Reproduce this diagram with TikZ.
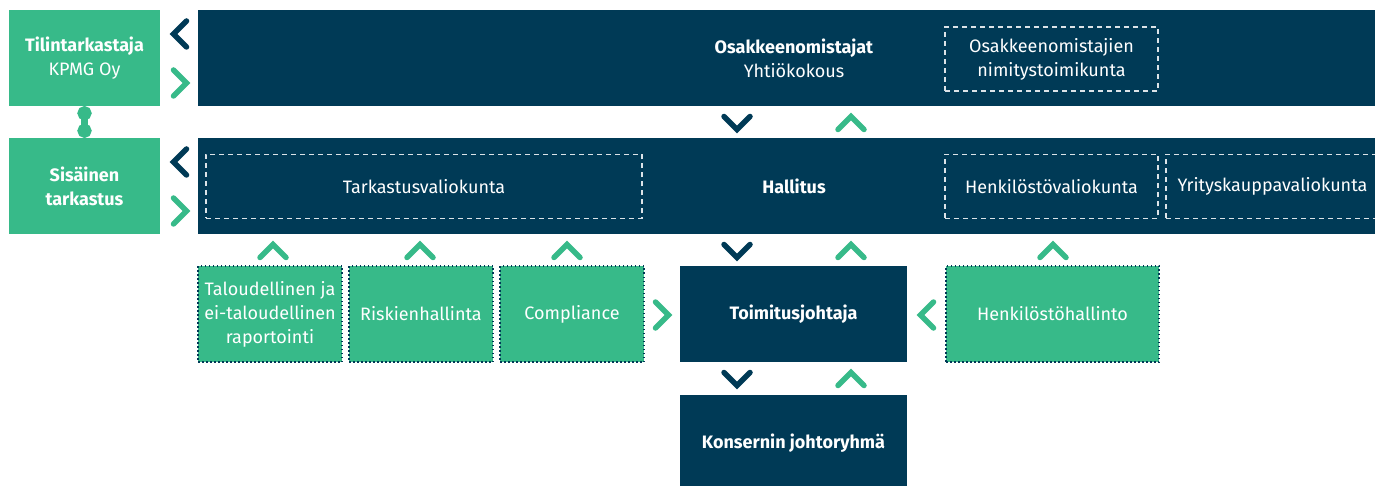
\documentclass[tikz,border=0pt]{standalone}
\usepackage{fontspec}
\setmainfont{Fira Sans}
\usetikzlibrary{arrows.meta}

\definecolor{hnavy}{HTML}{003A56}
\definecolor{hgreen}{HTML}{37BA89}
\definecolor{hgrey}{HTML}{DCE3E8}

\tikzset{
  band/.style={fill=hnavy, text=white, minimum width=1192pt, minimum height=96pt, inner sep=0pt, align=center},
  auditbox/.style={fill=hgreen, text=white, minimum width=151pt, minimum height=96pt, inner sep=0pt, align=center},
  unitbox/.style={fill=hgreen, draw=hnavy, line width=1.5pt, dash pattern=on 1.5pt off 2.5pt, text=white, minimum height=96pt, inner sep=0pt, align=center},
  ceobox/.style={fill=hnavy, text=white, minimum width=227pt, minimum height=96pt, inner sep=0pt, align=center},
  committee/.style={draw=hgrey, line width=1.2pt, dash pattern=on 5pt off 4pt, text=white, minimum height=64pt, inner sep=0pt, align=center},
  chevline/.style={line width=5.5pt, line cap=round, line join=miter},
  chevdown/.pic={\draw[chevline] (-13,-6.5) -- (0,6.5) -- (13,-6.5);},
  chevup/.pic={\draw[chevline] (-13,6.5) -- (0,-6.5) -- (13,6.5);},
  chevleft/.pic={\draw[chevline] (6.5,-13) -- (-6.5,0) -- (6.5,13);},
  chevright/.pic={\draw[chevline] (-6.5,-13) -- (6.5,0) -- (-6.5,13);}
}

\begin{document}
\begin{tikzpicture}[x=1pt, y=-1pt, font=\fontsize{18}{24}\selectfont]
  \useasboundingbox (0,0) rectangle (1375,486);
  \clip (0,0) rectangle (1375,486);

  \node[auditbox] (tilin) at (84.5,58) {\textbf{Tilintarkastaja}\\KPMG Oy};
  \node[auditbox] (sisainen) at (84.5,186) {\textbf{Sisäinen}\\\textbf{tarkastus}};
  \draw[hgreen, line width=7pt, {Circle[length=14pt,width=14pt]}-{Circle[length=14pt,width=14pt]}] (tilin.south) -- (sisainen.north);

  \node[band] (yhtio) at (794,58) {\textbf{Osakkeenomistajat}\\Yhtiökokous};
  \node[committee, minimum width=213pt] (nimitys) at (1051.5,59) {Osakkeenomistajien\\nimitystoimikunta};

  \node[band] (hallitus) at (794,186) {\textbf{Hallitus}};
  \node[committee, minimum width=436pt] (tarkva) at (424,186.5) {Tarkastusvaliokunta};
  \node[committee, minimum width=213pt] (henkva) at (1051.5,186.5) {Henkilöstövaliokunta};
  \node[committee, minimum width=213pt] (yritva) at (1272.5,186.5) {Yrityskauppavaliokunta};

  \node[unitbox, minimum width=144pt] (talous) at (270,314) {Taloudellinen ja\\ei-taloudellinen\\raportointi};
  \node[unitbox, minimum width=144pt] (riski) at (421,314) {Riskienhallinta};
  \node[unitbox, minimum width=144pt] (compl) at (572,314) {Compliance};
  \node[ceobox] (toimitus) at (793.5,314) {\textbf{Toimitusjohtaja}};
  \node[unitbox, minimum width=213pt] (henkhal) at (1052.5,314) {Henkilöstöhallinto};
  \node[ceobox] (konserni) at (793.5,443) {\textbf{Konsernin johtoryhmä}};

  \pic[hnavy] at (180,34) {chevleft};
  \pic[hgreen] at (180,83) {chevright};
  \pic[hnavy] at (180,162) {chevleft};
  \pic[hgreen] at (180,211) {chevright};
  \foreach \y in {123,251,379} {
    \pic[hnavy] at (737,\y) {chevdown};
    \pic[hgreen] at (851,\y) {chevup};
  }
  \foreach \x in {273,420,567,1053}
    \pic[hgreen] at (\x,251) {chevup};
  \pic[hgreen] at (662,315) {chevright};
  \pic[hgreen] at (927,315) {chevleft};
\end{tikzpicture}
\end{document}
